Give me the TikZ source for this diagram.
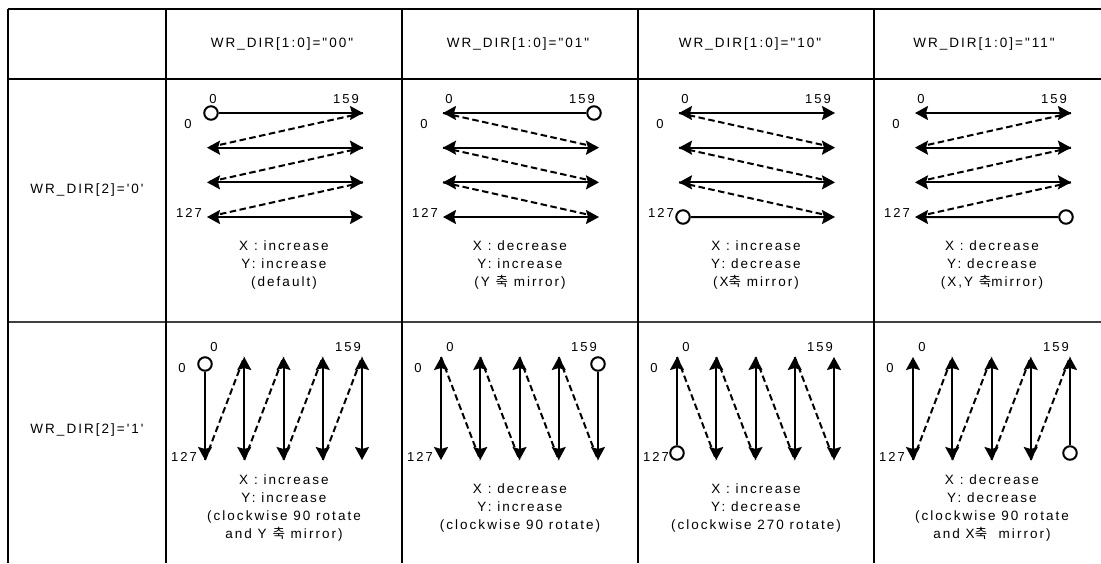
\documentclass[tikz,border=0pt]{standalone}
\usepackage{fontspec}
\usetikzlibrary{arrows.meta}
\newfontfamily\tabfont{Liberation Sans}[LetterSpace=15]
\newfontfamily\kr{Noto Sans CJK KR}

\tikzset{
  hd/.tip={Stealth[length=13pt,width=14pt,inset=2pt]},
  grid/.style={line width=2.2pt, black},
  divider/.style={line width=1.5pt, black!75},
  txt/.style={font=\tabfont\fontsize{13.5}{18}\selectfont, inner sep=0pt, align=center},
  lbl/.style={font=\tabfont\fontsize{13}{14}\selectfont, inner sep=0pt},
  oneway/.style={line width=2pt, -hd},
  twoway/.style={line width=2pt, hd-hd},
  ret/.style={line width=2pt, dash pattern=on 6.5pt off 3.5pt},
  origin/.style={circle, draw, line width=2pt, minimum size=13.5pt, inner sep=0pt, fill=white},
}

\begin{document}
\begin{tikzpicture}[x=1pt,y=-1pt]
\useasboundingbox (0,0) rectangle (1101,563);

% table rules
\draw[grid] (8,9) -- (1101,9);
\draw[grid] (8,79) -- (1101,79);
\draw[divider] (8,322) -- (1101,322);
\foreach \xx in {8,166,402,638,874} \draw[grid] (\xx,9) -- (\xx,563);

% headers
\node[txt] (h1) at (282,44) {WR\_DIR[1:0]="00"};
\node[txt] (h2) at (518,44) {WR\_DIR[1:0]="01"};
\node[txt] (h3) at (750,44) {WR\_DIR[1:0]="10"};
\node[txt] (h4) at (984,44) {WR\_DIR[1:0]="11"};
\node[txt] (r0) at (87,190) {WR\_DIR[2]='0'};
\node[txt] (r1) at (87,430) {WR\_DIR[2]='1'};

% scan-line end points and index labels
\foreach \c in {1,...,4}{
  \pgfmathsetmacro\xo{166+236*(\c-1)}
  \foreach \i in {1,...,4}{
    \pgfmathsetmacro\yy{113+34.667*(\i-1)}
    \coordinate (L\c\i) at (\xo+41,\yy);
    \coordinate (R\c\i) at (\xo+197,\yy);
  }
  \foreach \j in {1,...,5}{
    \pgfmathsetmacro\xx{\xo+39+39.25*(\j-1)}
    \coordinate (T\c\j) at (\xx,357);
    \coordinate (B\c\j) at (\xx,460);
  }
  \node[lbl] (ha\c) at (\xo+47,99) {0};
  \node[lbl] (hb\c) at (\xo+180,99) {159};
  \node[lbl] (hc\c) at (\xo+22,124) {0};
  \node[lbl,anchor=east] (hd\c) at (\xo+36,213) {127};
  \node[lbl] (va\c) at (\xo+48,347) {0};
  \node[lbl] (vb\c) at (\xo+182,347) {159};
  \node[lbl] (vc\c) at (\xo+16,368) {0};
  \node[lbl,anchor=east] (vd\c) at (\xo+31,457) {127};
}

% ---- WR_DIR[2]='0' : horizontal scans ----
% 00
\foreach \i [evaluate=\i as \n using int(\i+1)] in {1,2,3} \draw[ret] (R1\i) -- (L1\n);
\foreach \i in {2,3,4} \draw[twoway] (L1\i) -- (R1\i);
\node[origin] (u1) at (211,113) {};
\draw[oneway] (u1) -- (R11);
% 01
\foreach \i [evaluate=\i as \n using int(\i+1)] in {1,2,3} \draw[ret] (L2\i) -- (R2\n);
\foreach \i in {2,3,4} \draw[twoway] (L2\i) -- (R2\i);
\node[origin] (u2) at (594,113) {};
\draw[oneway] (u2) -- (L21);
% 10
\foreach \i [evaluate=\i as \n using int(\i+1)] in {1,2,3} \draw[ret] (L3\i) -- (R3\n);
\foreach \i in {1,2,3} \draw[twoway] (L3\i) -- (R3\i);
\node[origin] (u3) at (683,217) {};
\draw[oneway] (u3) -- (R34);
% 11
\foreach \i [evaluate=\i as \n using int(\i+1)] in {1,2,3} \draw[ret] (R4\i) -- (L4\n);
\foreach \i in {1,2,3} \draw[twoway] (L4\i) -- (R4\i);
\node[origin] (u4) at (1066,217) {};
\draw[oneway] (u4) -- (L44);

% ---- WR_DIR[2]='1' : vertical scans ----
% 00
\foreach \j [evaluate=\j as \n using int(\j+1)] in {1,...,4} \draw[ret] (B1\j) -- (T1\n);
\foreach \j in {2,...,5} \draw[twoway] (T1\j) -- (B1\j);
\node[origin] (v1) at (205,364) {};
\draw[oneway] (v1) -- (B11);
% 01
\foreach \j [evaluate=\j as \n using int(\j+1)] in {1,...,4} \draw[ret] (T2\j) -- (B2\n);
\foreach \j in {1,...,4} \draw[twoway] (T2\j) -- (B2\j);
\node[origin] (v2) at (598,364) {};
\draw[oneway] (v2) -- (B25);
% 10
\foreach \j [evaluate=\j as \n using int(\j+1)] in {1,...,4} \draw[ret] (T3\j) -- (B3\n);
\foreach \j in {2,...,5} \draw[twoway] (T3\j) -- (B3\j);
\node[origin] (v3) at (677,453) {};
\draw[oneway] (v3) -- (T31);
% 11
\foreach \j [evaluate=\j as \n using int(\j+1)] in {1,...,4} \draw[ret] (B4\j) -- (T4\n);
\foreach \j in {1,...,4} \draw[twoway] (T4\j) -- (B4\j);
\node[origin] (v4) at (1070,453) {};
\draw[oneway] (v4) -- (T45);

% descriptions
\node[txt] (d1) at (284,265) {X : increase\\Y: increase\\(default)};
\node[txt] (d2) at (520,265) {X : decrease\\Y: increase\\(Y {\kr 축} mirror)};
\node[txt] (d3) at (756,265) {X : increase\\Y: decrease\\(X{\kr 축} mirror)};
\node[txt] (d4) at (992,265) {X : decrease\\Y: decrease\\(X,Y {\kr 축}mirror)};
\node[txt] (e1) at (284,508) {X : increase\\Y: increase\\(clockwise 90 rotate\\and Y {\kr 축} mirror)};
\node[txt] (e2) at (520,508) {X : decrease\\Y: increase\\(clockwise 90 rotate)};
\node[txt] (e3) at (756,508) {X : increase\\Y: decrease\\(clockwise 270 rotate)};
\node[txt] (e4) at (992,508) {X : decrease\\Y: decrease\\(clockwise 90 rotate\\and X{\kr 축}~ mirror)};
\end{tikzpicture}
\end{document}
